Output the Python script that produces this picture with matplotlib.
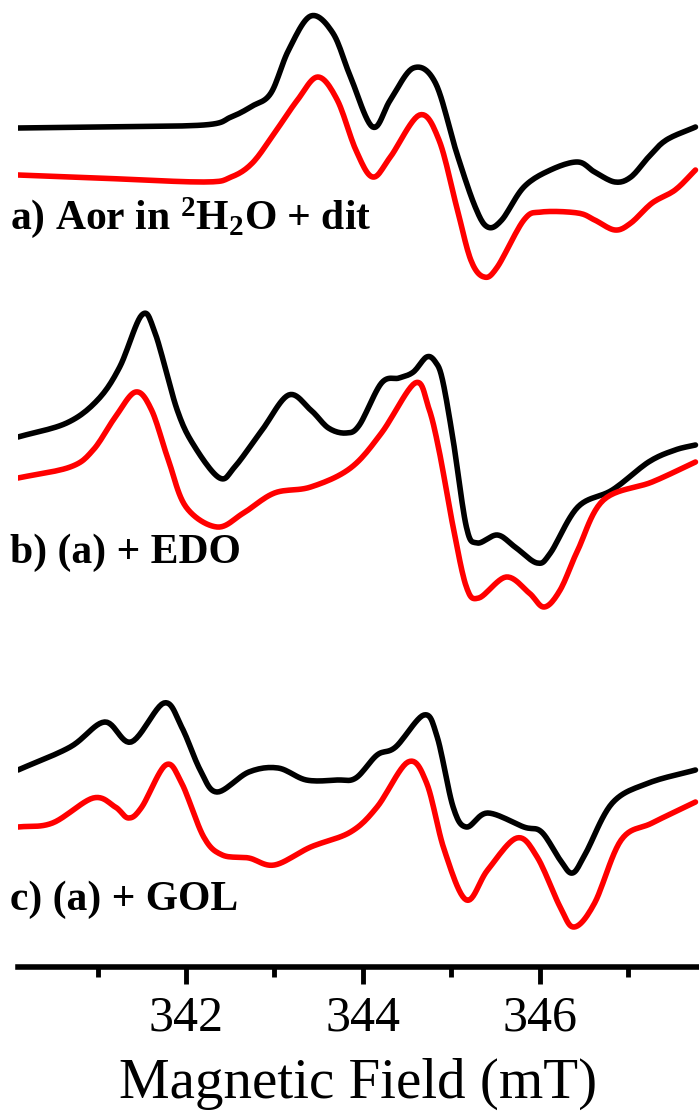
import numpy as np
import matplotlib
matplotlib.use("Agg")
import matplotlib.pyplot as plt
from matplotlib.ticker import MultipleLocator

plt.rcParams['font.family'] = ['Liberation Serif', 'DejaVu Serif']
plt.rcParams['mathtext.fontset'] = 'custom'
plt.rcParams['mathtext.rm'] = 'Liberation Serif:bold'
plt.rcParams['mathtext.it'] = 'Liberation Serif:bold'
plt.rcParams['mathtext.bf'] = 'Liberation Serif:bold'

# field (mT) and signal (a.u., offset per trace)
a_black_x = [340.10, 341.00, 342.20, 342.51, 342.75, 342.96, 343.16, 343.41, 343.66, 343.86, 344.11,
             344.31, 344.57, 344.82, 345.06, 345.27, 345.41, 345.57, 345.82, 346.12, 346.43, 346.62,
             346.85, 347.03, 347.23, 347.43, 347.76]
a_black_y = [872, 873, 875, 883, 894, 907, 950, 984, 967, 923, 873,
             900, 932, 917, 847, 793, 773, 780, 813, 830, 838, 828,
             818, 823, 843, 860, 873]
a_red_x = [340.10, 341.00, 342.20, 342.51, 342.75, 343.00, 343.26, 343.49, 343.71, 343.92, 344.11,
           344.31, 344.64, 344.86, 345.06, 345.22, 345.37, 345.52, 345.82, 346.02, 346.43, 346.62,
           346.85, 347.03, 347.27, 347.53, 347.76]
a_red_y = [825, 822, 818, 823, 837, 867, 900, 923, 900, 850, 823,
           843, 885, 860, 793, 740, 723, 733, 780, 788, 787, 780,
           770, 777, 797, 810, 830]

b_black_x = [340.10, 340.65, 341.00, 341.25, 341.50, 341.65, 341.90, 342.10, 342.38, 342.55, 342.86,
             343.16, 343.41, 343.61, 343.81, 343.96, 344.21, 344.41, 344.57, 344.72, 344.82, 344.90,
             345.02, 345.17, 345.29, 345.52, 345.72, 345.97, 346.12, 346.43, 346.82, 347.23, 347.53,
             347.76]
b_black_y = [563, 577, 600, 633, 685, 667, 590, 553, 522, 533, 570,
             605, 590, 572, 567, 575, 617, 622, 628, 643, 638, 620,
             560, 473, 457, 465, 453, 437, 447, 493, 510, 538, 550,
             555]
b_red_x = [340.10, 340.69, 340.95, 341.20, 341.43, 341.61, 341.80, 342.00, 342.35, 342.65, 343.00,
           343.41, 343.86, 344.21, 344.59, 344.74, 344.86, 345.02, 345.17, 345.31, 345.62, 345.88,
           346.05, 346.23, 346.43, 346.72, 347.27, 347.76]
b_red_y = [522, 533, 550, 583, 608, 590, 540, 493, 473, 487, 507,
           513, 532, 567, 617, 593, 550, 473, 413, 402, 423, 407,
           393, 410, 450, 500, 518, 538]

c_black_x = [340.10, 340.69, 341.08, 341.38, 341.75, 341.95, 342.16, 342.35, 342.71, 343.04, 343.36,
             343.71, 343.92, 344.16, 344.37, 344.69, 344.84, 345.02, 345.17, 345.41, 345.82, 346.02,
             346.23, 346.37, 346.52, 346.82, 347.23, 347.76]
c_black_y = [230, 253, 278, 258, 297, 273, 230, 208, 228, 232, 220,
             220, 222, 245, 253, 285, 263, 193, 173, 187, 173, 168,
             140, 127, 147, 197, 217, 230]
c_red_x = [340.10, 340.49, 340.95, 341.20, 341.35, 341.50, 341.77, 341.95, 342.20, 342.41, 342.71,
           343.00, 343.41, 343.86, 344.16, 344.51, 344.72, 344.92, 345.17, 345.41, 345.74, 345.97,
           346.23, 346.39, 346.62, 346.92, 347.27, 347.76]
c_red_y = [173, 177, 202, 193, 182, 193, 235, 217, 163, 145, 142,
           135, 153, 168, 193, 238, 217, 150, 100, 130, 162, 143,
           93, 73, 97, 160, 177, 198]

labels = [r"a) Aor in $^{2}$H$_{2}$O + dit", "b) (a) + EDO", "c) (a) + GOL"]
label_y = [218, 553, 900]  # pixel rows of label centres


def smooth(x, y, n=12):
    # Catmull-Rom through the read points
    x = np.asarray(x, float)
    y = np.asarray(y, float)
    px = np.concatenate([[2 * x[0] - x[1]], x, [2 * x[-1] - x[-2]]])
    py = np.concatenate([[2 * y[0] - y[1]], y, [2 * y[-1] - y[-2]]])
    xs, ys = [], []
    t = np.linspace(0, 1, n, endpoint=False)
    for i in range(1, len(px) - 2):
        for p, out in ((px, xs), (py, ys)):
            p0, p1, p2, p3 = p[i - 1], p[i], p[i + 1], p[i + 2]
            out.append(0.5 * (2 * p1 + (-p0 + p2) * t + (2 * p0 - 5 * p1 + 4 * p2 - p3) * t ** 2
                              + (-p0 + 3 * p1 - 3 * p2 + p3) * t ** 3))
    xs.append([x[-1]])
    ys.append([y[-1]])
    return np.concatenate(xs), np.concatenate(ys)


W, H = 699, 1117
fig = plt.figure(figsize=(W / 100, H / 100), dpi=100)
ax = fig.add_axes([18 / W, (H - 967) / H, 1 - 18 / W, 967 / H])

for xs, ys in [(a_black_x, a_black_y), (b_black_x, b_black_y), (c_black_x, c_black_y)]:
    sx, sy = smooth(xs, ys)
    ax.plot(sx, sy, color='black', lw=4.0, solid_joinstyle='round', solid_capstyle='round')
for xs, ys in [(a_red_x, a_red_y), (b_red_x, b_red_y), (c_red_x, c_red_y)]:
    sx, sy = smooth(xs, ys)
    ax.plot(sx, sy, color='#ff0000', lw=4.0, solid_joinstyle='round', solid_capstyle='round')

ax.set_xlim(340.1, 347.8)
ax.set_ylim(1000 - 967, 1000)
for s in ['left', 'right', 'top']:
    ax.spines[s].set_visible(False)
ax.spines['bottom'].set_linewidth(4)
ax.set_yticks([])
ax.xaxis.set_major_locator(MultipleLocator(2))
ax.xaxis.set_minor_locator(MultipleLocator(1))
ax.tick_params(axis='x', which='major', length=12, width=3.5, labelsize=36, pad=8)
ax.tick_params(axis='x', which='minor', length=7, width=3.5)
ax.set_xlabel('Magnetic Field (mT)', fontsize=41, labelpad=12)

for txt, yy in zip(labels, label_y):
    fig.text(10 / W, 1 - yy / H, txt, fontsize=30, fontweight='bold', va='center', ha='left')

fig.savefig('out.png', dpi=100)
